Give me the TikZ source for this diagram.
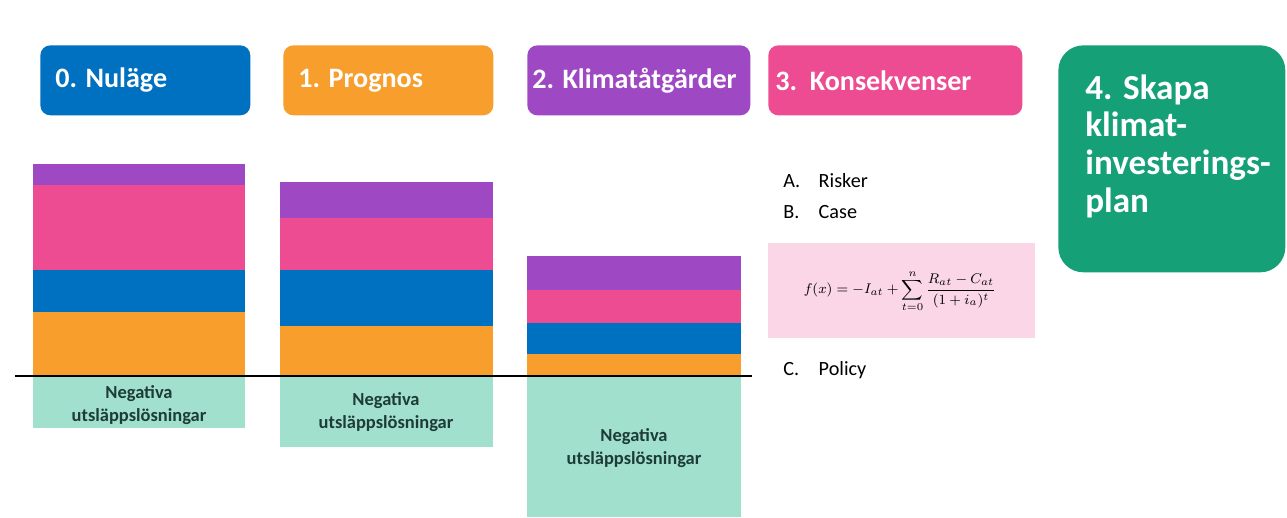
\documentclass[tikz,border=0pt]{standalone}
\usepackage{fontspec}
\usepackage{amsmath}
\setmainfont{Carlito}
\usetikzlibrary{positioning}

\definecolor{nublue}{RGB}{0,112,192}
\definecolor{progorange}{RGB}{247,158,45}
\definecolor{klimpurple}{RGB}{158,72,196}
\definecolor{konspink}{RGB}{237,76,146}
\definecolor{skapagreen}{RGB}{22,160,120}
\definecolor{negteal}{RGB}{160,224,204}
\definecolor{formpink}{RGB}{250,214,230}
\definecolor{negdark}{RGB}{30,60,55}

\tikzset{
  headbox/.style={rounded corners=0.2cm, anchor=north west, inner sep=0pt,
    minimum height=1.4cm},
  headtext/.style={text=white, anchor=west, inner sep=0pt,
    font=\fontsize{16}{18}\selectfont\bfseries},
  negtext/.style={text=negdark, align=center, inner sep=0pt,
    font=\fontsize{10.5}{13.5}\selectfont\bfseries},
  itemtext/.style={anchor=west, inner sep=0pt, font=\fontsize{11.5}{14}\selectfont}
}

\begin{document}
\begin{tikzpicture}[x=0.02cm,y=-0.02cm]
    \useasboundingbox (0,0) rectangle (1287,517);
    % headers
    \node [headbox, fill=nublue, minimum width=4.2cm] (nulage) at (40,45) {};
    \node [headtext, right=0.3cm of nulage.west] (nulagetxt) {0. Nuläge};
    \node [headbox, fill=progorange, minimum width=4.2cm] (prognos) at (283,45) {};
    \node [headtext, right=0.3cm of prognos.west] (prognostxt) {1. Prognos};
    \node [headbox, fill=klimpurple, minimum width=4.46cm] (atgard) at (527,45) {};
    \node [headtext, right=0.1cm of atgard.west] (atgardtxt) {2. Klimatåtgärder};
    \node [headbox, fill=konspink, minimum width=5.08cm] (konsekv) at (768,45) {};
    \node [headtext, right=0.14cm of konsekv.west] (konsekvtxt) {3.\ \ Konsekvenser};
    \node [headbox, fill=skapagreen, minimum width=4.54cm, minimum height=4.54cm,
      rounded corners=0.5cm] (skapa) at (1058,45) {};
    \node [headtext, anchor=north west, align=left,
      font=\fontsize{20}{21.5}\selectfont\bfseries] (skapatxt) at (1085,74)
      {4. Skapa\\klimat-\\investerings-\\plan};
    % bar 0
    \fill [klimpurple] (33,164) rectangle (245,185);
    \fill [konspink] (33,185) rectangle (245,270);
    \fill [nublue] (33,270) rectangle (245,312);
    \fill [progorange] (33,312) rectangle (245,376);
    \fill [negteal] (33,376) rectangle (245,428);
    \node [negtext] (neg0) at (139,405) {Negativa\\utsläppslösningar};
    % bar 1
    \fill [klimpurple] (280,182) rectangle (493,218);
    \fill [konspink] (280,218) rectangle (493,270);
    \fill [nublue] (280,270) rectangle (493,326);
    \fill [progorange] (280,326) rectangle (493,376);
    \fill [negteal] (280,376) rectangle (493,447);
    \node [negtext] (neg1) at (386,412) {Negativa\\utsläppslösningar};
    % bar 2
    \fill [klimpurple] (527,256) rectangle (741,290);
    \fill [konspink] (527,290) rectangle (741,323);
    \fill [nublue] (527,323) rectangle (741,354);
    \fill [progorange] (527,354) rectangle (741,376);
    \fill [negteal] (527,376) rectangle (741,517);
    \node [negtext] (neg2) at (634,448) {Negativa\\utsläppslösningar};
    % zero line
    \draw [line width=1.2pt] (15,376) -- (752,376);
    % consequences
    \node [itemtext] (risker) at (783,181) {\makebox[1.75em][l]{A.}Risker};
    \node [itemtext] (case) at (783,212) {\makebox[1.75em][l]{B.}Case};
    \fill [formpink] (768,243) rectangle (1035,338);
    \node [inner sep=0pt, font=\fontsize{8.5}{10}\selectfont] (formel) at (900,291)
      {$\displaystyle f(x) = -I_{at} + \sum_{t=0}^{n}\frac{R_{at}-C_{at}}{(1+i_a)^t}$};
    \node [itemtext] (policy) at (783,370) {\makebox[1.75em][l]{C.}Policy};
\end{tikzpicture}
\end{document}
